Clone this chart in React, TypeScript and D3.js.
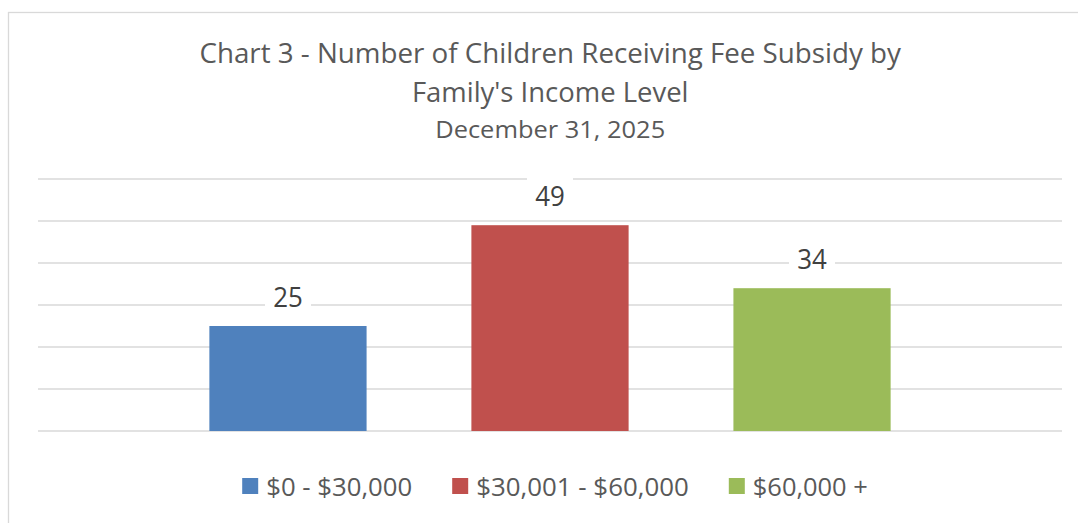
import React from "react";
import * as d3 from "d3";

const categories = ["$0 - $30,000", "$30,001 - $60,000", "$60,000 +"];
const values = [25, 49, 34];
const colors = ["#4F81BD", "#C0504D", "#9BBB59"];
const yTicks = [0, 10, 20, 30, 40, 50, 60];
const titleLines = [
  "Chart 3 - Number of Children Receiving Fee Subsidy by",
  "Family's Income Level",
  "December 31, 2025",
];

const W = 1078;
const H = 523;
const FONT = "'Open Sans', 'Noto Sans', sans-serif";

// layout (text widths approximate the original Calibri rendering)
const titleStyle = [
  { size: 28, baseline: 63, width: 701.5 },
  { size: 28, baseline: 101.5, width: 276.6 },
  { size: 24, baseline: 137.5, width: 230 },
];
const legendTextWidths = [146, 212.6, 115];

export default function App() {
  const plot = { left: 38, right: 1062, top: 179, bottom: 431 };
  const x = d3
    .scaleBand<string>()
    .domain(categories)
    .range([plot.left, plot.right])
    .paddingInner(0.4)
    .paddingOuter(0.654);
  const y = d3.scaleLinear().domain([0, 60]).range([plot.bottom, plot.top]);

  // legend layout
  const sq = 16;
  const gapText = 8;
  const gapItem = 40;
  const legendCenter = 555;
  const total =
    categories.length * (sq + gapText) +
    d3.sum(legendTextWidths) +
    gapItem * (categories.length - 1);
  let cursor = legendCenter - total / 2;
  const legendItems = categories.map((c, i) => {
    const item = { c, i, x: cursor };
    cursor += sq + gapText + legendTextWidths[i] + gapItem;
    return item;
  });
  const legendBaseline = 495.5;

  return (
    <svg
      width={W}
      height={H}
      style={{ position: "absolute", left: 0, top: 0, background: "#fff" }}
      fontFamily={FONT}
    >
      <rect x={0} y={0} width={W} height={H} fill="#fff" />
      <rect
        x={8.5}
        y={12.5}
        width={W + 20}
        height={H + 20}
        fill="#fff"
        stroke="#d9d9d9"
        strokeWidth={1.3}
      />
      {titleLines.map((t, i) => (
        <text
          key={i}
          x={550.2}
          y={titleStyle[i].baseline}
          textAnchor="middle"
          fontSize={titleStyle[i].size}
          fill="#595959"
          textLength={titleStyle[i].width}
          lengthAdjust="spacingAndGlyphs"
        >
          {t}
        </text>
      ))}
      <g>
        {yTicks.map((t) => (
          <line
            key={t}
            x1={plot.left}
            x2={plot.right}
            y1={y(t)}
            y2={y(t)}
            stroke="#d9d9d9"
            strokeWidth={1.5}
          />
        ))}
      </g>
      <g>
        {categories.map((c, i) => (
          <rect
            key={c}
            x={x(c)}
            y={y(values[i])}
            width={x.bandwidth()}
            height={y(0) - y(values[i])}
            fill={colors[i]}
          />
        ))}
      </g>
      <g>
        {categories.map((c, i) => {
          const cx = (x(c) as number) + x.bandwidth() / 2;
          const base = y(values[i]) - 19.5;
          const label = String(values[i]);
          return (
            <g key={c}>
              <rect x={cx - 23} y={base - 30} width={46} height={37} fill="#fff" />
              <text
                x={cx}
                y={base}
                textAnchor="middle"
                fontSize={28}
                fill="#404040"
                textLength={label.length * 14.8}
                lengthAdjust="spacingAndGlyphs"
              >
                {label}
              </text>
            </g>
          );
        })}
      </g>
      <g>
        {legendItems.map(({ c, i, x: lx }) => (
          <g key={c}>
            <rect x={lx} y={478} width={sq} height={sq} fill={colors[i]} />
            <text
              x={lx + sq + gapText}
              y={legendBaseline}
              fontSize={25}
              fill="#595959"
              textLength={legendTextWidths[i]}
              lengthAdjust="spacingAndGlyphs"
            >
              {c}
            </text>
          </g>
        ))}
      </g>
    </svg>
  );
}
